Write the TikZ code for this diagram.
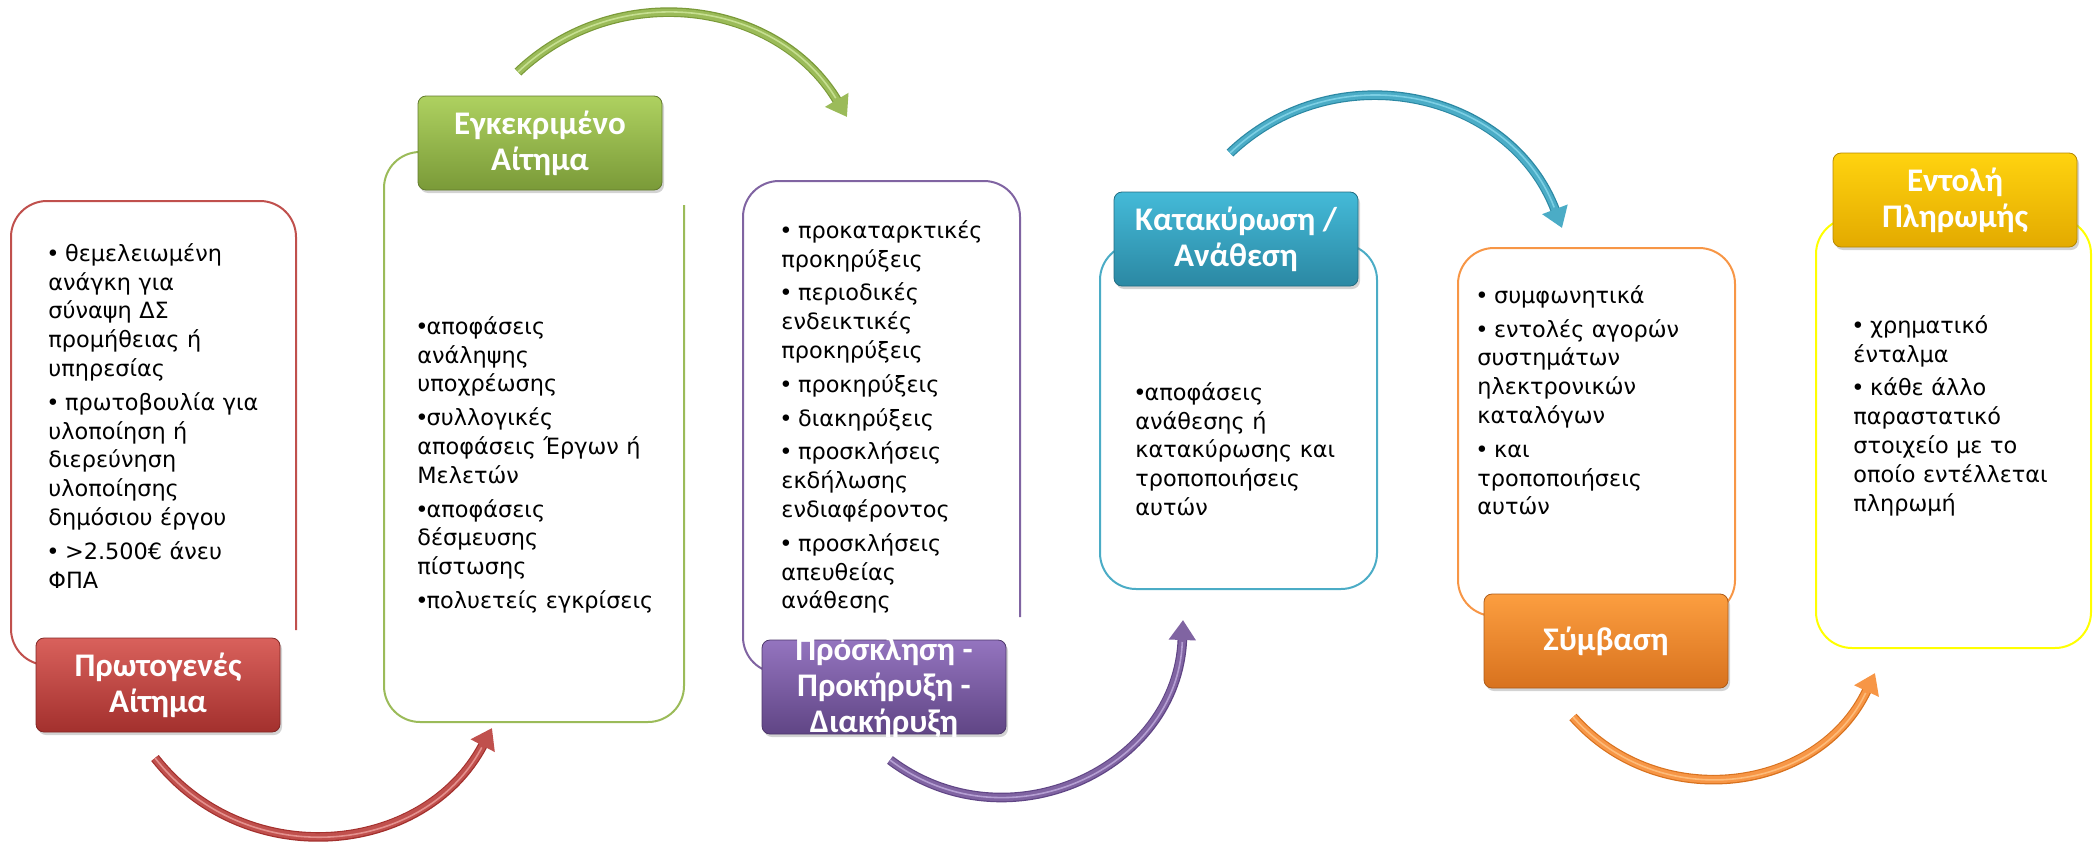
\documentclass[tikz,border=0pt]{standalone}
\usepackage{fontspec}
\newfontfamily\bodyfont{DejaVu Sans}
\newfontfamily\headfont{Carlito}
\usetikzlibrary{arrows.meta,shadows}

\definecolor{redL}{HTML}{C0504D}\definecolor{redT}{HTML}{D9615C}\definecolor{redB}{HTML}{A3302D}
\definecolor{grnL}{HTML}{9BBB59}\definecolor{grnT}{HTML}{AED160}\definecolor{grnB}{HTML}{7A9A38}
\definecolor{purL}{HTML}{8064A2}\definecolor{purT}{HTML}{9474BF}\definecolor{purB}{HTML}{604585}
\definecolor{bluL}{HTML}{4BACC6}\definecolor{bluT}{HTML}{44BAD8}\definecolor{bluB}{HTML}{2B88A3}
\definecolor{orgL}{HTML}{F79646}\definecolor{orgT}{HTML}{FC9E40}\definecolor{orgB}{HTML}{D8721E}
\definecolor{ylwL}{HTML}{FFFF00}\definecolor{ylwT}{HTML}{FFD30F}\definecolor{ylwB}{HTML}{E3AA00}

\newcommand{\itm}[1]{\par\parskip=2.5pt\hangindent=4.6pt\hangafter=1\noindent\makebox[4.6pt][c]{•}#1\par}

\tikzset{
  boxline/.style={draw=#1, line width=1pt, rounded corners=18pt},
  head/.style={rounded corners=4pt, top color=#1T, bottom color=#1B, draw=#1B!80!black,
    minimum width=122pt, minimum height=47pt, inner sep=2pt, align=center, text=white,
    font=\headfont\bfseries\fontsize{16.5}{18}\selectfont,
    drop shadow={shadow xshift=1pt, shadow yshift=-1.5pt, opacity=0.35}},
  headtext/.style={text=white, align=center, font=\headfont\bfseries\fontsize{16.5}{18}\selectfont},
  bodytext/.style={anchor=north west, inner sep=0pt, text width=150pt, align=left,
    font=\bodyfont\fontsize{11.2}{14.4}\selectfont},
  tube/.style={line width=4.8pt, draw=#1B, -{Triangle[width=13pt,length=10pt,color=#1L]},
    postaction={draw=#1L, line width=3.6pt, -, shorten >=9pt},
    postaction={draw=#1T!70!white, line width=0.8pt, -, shorten >=11pt}}
}

\begin{document}
\begin{tikzpicture}[x=0.5pt,y=-0.5pt]
\useasboundingbox (0,0) rectangle (2098,846);

% box outlines
\draw[boxline=redL] (296,630) -- (296,201) -- (11,201) -- (11,665) -- (70,665);
\draw[boxline=grnL] (684,205) -- (684,722) -- (384,722) -- (384,152) -- (460,152);
\draw[boxline=purL] (1020,617) -- (1020,181) -- (743,181) -- (743,673) -- (800,673);
\draw[boxline=bluL] (1100,244) rectangle (1377,589);
\draw[boxline=orgL] (1458,248) rectangle (1735,616);
\draw[boxline=ylwL] (1816,218) rectangle (2091,648);

% headers
\node[head=red] (h1) at (158,685) {Πρωτογενές\\Αίτημα};
\node[head=grn] (h2) at (540,143) {Εγκεκριμένο\\Αίτημα};
\node[head=pur, label={[headtext]center:Πρόσκληση -\\Προκήρυξη -\\Διακήρυξη}] (h3) at (884,687) {};
\node[head=blu] (h4) at (1236,239) {Κατακύρωση /\\Ανάθεση};
\node[head=org] (h5) at (1606,641) {Σύμβαση};
\node[head=ylw] (h6) at (1955,200) {Εντολή\\Πληρωμής};

% lists
\node[bodytext] (t1) at (48,227) {%
\itm{~θεμελειωμένη\\ανάγκη για\\σύναψη ΔΣ\\προμήθειας ή\\υπηρεσίας}%
\itm{~πρωτοβουλία για\\υλοποίηση ή\\διερεύνηση\\υλοποίησης\\δημόσιου έργου}%
\itm{~>2.500€ άνευ\\ΦΠΑ}};
\node[bodytext] (t2) at (417,300) {%
\itm{αποφάσεις\\ανάληψης\\υποχρέωσης}%
\itm{συλλογικές\\αποφάσεις Έργων ή\\Μελετών}%
\itm{αποφάσεις\\δέσμευσης\\πίστωσης}%
\itm{πολυετείς εγκρίσεις}};
\node[bodytext] (t3) at (781,204) {%
\itm{~προκαταρκτικές\\προκηρύξεις}%
\itm{~περιοδικές\\ενδεικτικές\\προκηρύξεις}%
\itm{~προκηρύξεις}%
\itm{~διακηρύξεις}%
\itm{~προσκλήσεις\\εκδήλωσης\\ενδιαφέροντος}%
\itm{~προσκλήσεις\\απευθείας\\ανάθεσης}};
\node[bodytext] (t4) at (1135,366) {%
\itm{αποφάσεις\\ανάθεσης ή\\κατακύρωσης και\\τροποποιήσεις\\αυτών}};
\node[bodytext] (t5) at (1477,269) {%
\itm{~συμφωνητικά}%
\itm{~εντολές αγορών\\συστημάτων\\ηλεκτρονικών\\καταλόγων}%
\itm{~και\\τροποποιήσεις\\αυτών}};
\node[bodytext] (t6) at (1853,299) {%
\itm{~χρηματικό\\ένταλμα}%
\itm{~κάθε άλλο\\παραστατικό\\στοιχείο με το\\οποίο εντέλλεται\\πληρωμή}};

% arrow ends
\node[coordinate] (r0) at (155,758) {};
\node[coordinate] (r1) at (492,728) {};
\node[coordinate] (g0) at (518,72) {};
\node[coordinate] (g1) at (847,117) {};
\node[coordinate] (p0) at (890,760) {};
\node[coordinate] (p1) at (1183,620) {};
\node[coordinate] (b0) at (1230,153) {};
\node[coordinate] (b1) at (1562,228) {};
\node[coordinate] (o0) at (1573,717) {};
\node[coordinate] (o1) at (1875,673) {};

% arrows
\draw[tube=red] (r0) .. controls (245,873) and (424,857) .. (r1);
\draw[tube=grn] (g0) .. controls (617,-22) and (777,0) .. (g1);
\draw[tube=pur] (p0) .. controls (1008,849) and (1178,768) .. (p1);
\draw[tube=blu] (b0) .. controls (1336,52) and (1510,91) .. (b1);
\draw[tube=org] (o0) .. controls (1660,815) and (1819,792) .. (o1);
\end{tikzpicture}
\end{document}
